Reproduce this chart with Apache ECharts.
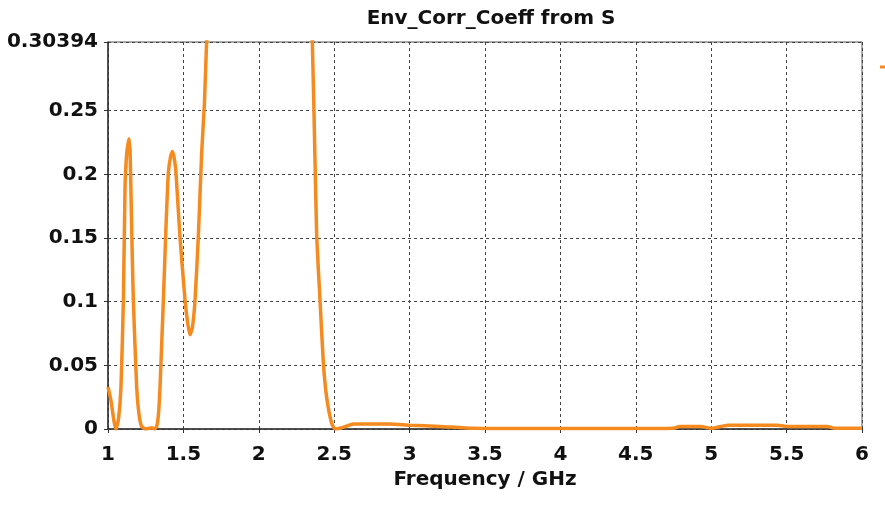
<!DOCTYPE html>
<html lang="en">
<head>
  <meta charset="UTF-8">
  <title>Env_Corr_Coeff from S</title>
  <script src="https://cdn.jsdelivr.net/npm/echarts@6/dist/echarts.min.js"></script>
  <style>
    html, body { margin: 0; padding: 0; background: #fff; }
    #chart { width: 885px; height: 507px; }
  </style>
</head>
<body>
  <div id="chart"></div>
  <script>
    // frequency (GHz) and envelope correlation
    const freq = [1.0, 1.02, 1.04, 1.053, 1.07, 1.086, 1.102, 1.113, 1.124, 1.133, 1.139, 1.143, 1.146, 1.153, 1.16, 1.168, 1.19, 1.205, 1.223,
      1.25, 1.27, 1.29, 1.31, 1.323, 1.335, 1.345, 1.367, 1.385, 1.4, 1.415, 1.427, 1.44, 1.451, 1.477, 1.511, 1.53, 1.544,
      1.56, 1.577, 1.599, 1.621, 1.639, 1.654, 1.68, 2.0, 2.33, 2.355, 2.373, 2.384, 2.406, 2.428, 2.45, 2.483, 2.505,
      2.55, 2.627, 2.87, 3.0, 3.2, 3.42, 3.7, 4.0, 4.5, 4.75, 4.79, 4.93, 5.0, 5.11, 5.3, 5.44, 5.5, 5.77, 5.82, 6.0];
    const corr = [0.033, 0.022, 0.006, 0.0, 0.008, 0.033, 0.101, 0.19, 0.2166, 0.224, 0.228, 0.222, 0.22, 0.182, 0.14, 0.101, 0.033, 0.012, 0.002,
      0.0, 0.0005, 0.001, 0.0, 0.002, 0.012, 0.033, 0.101, 0.16, 0.201, 0.214, 0.218, 0.212, 0.201, 0.151, 0.101, 0.082, 0.074,
      0.08, 0.101, 0.151, 0.2166, 0.255, 0.30394, 0.36, 0.6, 0.36, 0.30394, 0.209, 0.151, 0.101, 0.052, 0.025, 0.0045, 0.0,
      0.001, 0.004, 0.004, 0.003, 0.002, 0.0005, 0.0003, 0.0003, 0.0004, 0.0006, 0.002, 0.002, 0.0005, 0.003, 0.003, 0.003, 0.002, 0.002, 0.0005, 0.0005];

    // y tick values: regular steps plus the curve maximum on top
    const yTicks = [0, 0.05, 0.1, 0.15, 0.2, 0.25, 0.30394];
    const yMax = 0.30394;
    const seriesName = 'Env_Corr_Coeff';
    const labelFont = { fontFamily: 'DejaVu Sans', fontWeight: 'bold', fontSize: 20, color: '#111' };

    let chart = echarts.init(document.getElementById('chart'));
    let option = {
      backgroundColor: '#fff',
      animation: false,
      title: {
        text: 'Env_Corr_Coeff from S',
        left: 486, top: 4,
        textAlign: 'center',
        textStyle: { fontFamily: 'DejaVu Sans', fontWeight: 'bold', fontSize: 20, color: '#111' }
      },
      legend: {
        left: 875, top: 56,
        itemWidth: 12, itemHeight: 3,
        icon: 'rect',
        data: [seriesName],
        textStyle: { color: '#111', fontSize: 12 }
      },
      grid: {
        left: 108, right: 23, top: 42, bottom: 78,
        show: true, borderColor: '#555', borderWidth: 1
      },
      xAxis: {
        type: 'value',
        min: 1, max: 6, interval: 0.5,
        name: 'Frequency / GHz',
        nameLocation: 'middle',
        nameGap: 38,
        nameTextStyle: { fontFamily: 'DejaVu Sans', fontWeight: 'bold', fontSize: 20, color: '#111' },
        axisLine: { show: true, lineStyle: { color: '#333', width: 1.5 } },
        axisTick: { show: true, length: 4, lineStyle: { color: '#333' } },
        axisLabel: Object.assign({ margin: 16 }, labelFont),
        splitLine: { show: true, lineStyle: { color: '#444', type: [3, 3], width: 1 } }
      },
      yAxis: {
        type: 'value',
        min: 0, max: yMax,
        axisLine: { show: true, lineStyle: { color: '#333', width: 1.5 } },
        axisTick: { show: true, length: 4, customValues: yTicks, lineStyle: { color: '#333' } },
        axisLabel: Object.assign({ margin: 10, customValues: yTicks, formatter: function (v) { return String(v); } }, labelFont),
        splitLine: { show: true, lineStyle: { color: '#444', type: [3, 3], width: 1 } }
      },
      series: [{
        name: seriesName,
        type: 'line',
        clip: true,
        showSymbol: false,
        smooth: 0.15,
        lineStyle: { color: '#f58a1f', width: 3.5 },
        itemStyle: { color: '#f58a1f' },
        data: freq.map(function (f, i) { return [f, corr[i]]; })
      }]
    };
    chart.setOption(option);
  </script>
</body>
</html>
